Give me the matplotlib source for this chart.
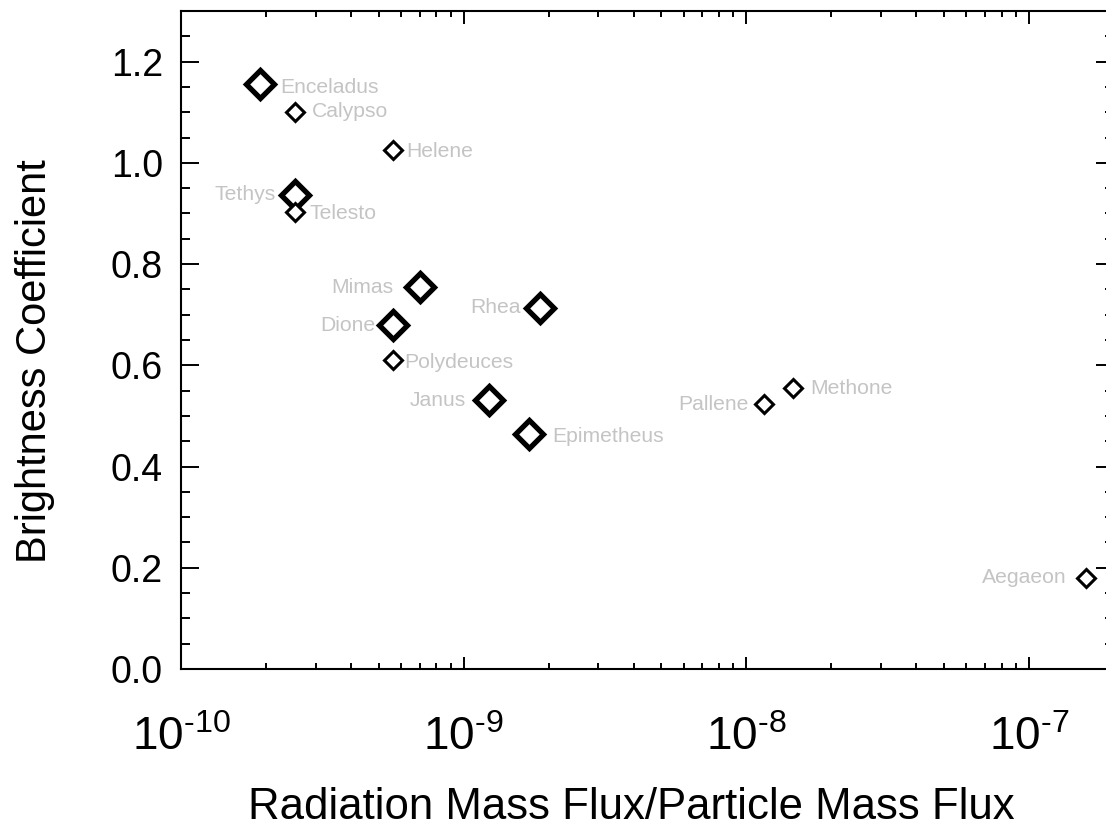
import numpy as np
import matplotlib
matplotlib.use('Agg')
import matplotlib.pyplot as plt
from matplotlib.ticker import LogLocator, MultipleLocator, FixedLocator, FuncFormatter

# Data
moons = ['Enceladus', 'Calypso', 'Helene', 'Tethys', 'Telesto', 'Mimas', 'Dione',
         'Polydeuces', 'Rhea', 'Janus', 'Epimetheus', 'Pallene', 'Methone', 'Aegaeon']
flux_ratio = [1.90e-10, 2.53e-10, 5.61e-10, 2.53e-10, 2.53e-10, 7.0e-10, 5.61e-10,
              5.61e-10, 1.87e-9, 1.225e-9, 1.71e-9, 1.16e-8, 1.46e-8, 1.59e-7]
brightness = [1.155, 1.101, 1.026, 0.937, 0.902, 0.754, 0.679,
              0.610, 0.714, 0.531, 0.464, 0.523, 0.555, 0.180]
is_major = [True, False, False, True, False, True, True,
            False, True, True, True, False, False, False]

# label placement (pixel offsets from the marker)
label_dx = [20, 17, 14, -19, 15, -26, -17, 12, -20, -23, 23, -16, 18, -19]
label_dy = [-3, 0, -2, 0, -1, 0, 0, -2, 0, 0, -2, 0, 0, 0]

plt.rcParams['font.family'] = ['Liberation Sans', 'DejaVu Sans']
plt.rcParams['mathtext.fontset'] = 'custom'
plt.rcParams['mathtext.rm'] = 'Liberation Sans'
plt.rcParams['mathtext.it'] = 'Liberation Sans:italic'
plt.rcParams['mathtext.bf'] = 'Liberation Sans:bold'

fig = plt.figure(figsize=(11.06, 8.26), dpi=100)
ax = fig.add_axes([181 / 1106, 1 - 669 / 826, (1114 - 181) / 1106, (669 - 11) / 826])

for x, y, big in zip(flux_ratio, brightness, is_major):
    if big:
        ax.plot(x, y, 'D', ms=14, mfc='white', mec='black', mew=3.8, zorder=3)
    else:
        ax.plot(x, y, 'D', ms=9.3, mfc='white', mec='black', mew=2.2, zorder=3)

for name, x, y, dx, dy in zip(moons, flux_ratio, brightness, label_dx, label_dy):
    ax.annotate(name, (x, y), xytext=(dx, dy), textcoords='offset pixels',
                ha='left' if dx > 0 else 'right', va='center',
                fontsize=15.2, color='#c4c4c4', zorder=2)

ax.set_xscale('log')
ax.set_xlim(1e-10, 2e-7)
ax.set_ylim(0, 1.3)

ax.xaxis.set_major_locator(FixedLocator([1e-10, 1e-9, 1e-8, 1e-7]))
ax.xaxis.set_minor_locator(LogLocator(base=10, subs=np.arange(2, 10), numticks=20))


def sci_fmt(v, pos):
    e = int(round(np.log10(v)))
    return r'$\mathregular{10^{\text{-}%d}}$' % abs(e)


ax.xaxis.set_major_formatter(FuncFormatter(sci_fmt))
ax.yaxis.set_major_locator(MultipleLocator(0.2))
ax.yaxis.set_minor_locator(MultipleLocator(0.05))
ax.yaxis.set_major_formatter(FuncFormatter(lambda v, p: '%.1f' % v))

ax.tick_params(axis='x', which='major', direction='in', top=True, length=9, width=1.4,
               labelsize=33, pad=34)
ax.tick_params(axis='x', which='minor', direction='in', top=True, length=4.5, width=1.4)
ax.tick_params(axis='y', which='major', direction='in', right=True, length=13, width=1.4,
               labelsize=27, pad=13)
ax.tick_params(axis='y', which='minor', direction='in', right=True, length=6.5, width=1.4)
for s in ax.spines.values():
    s.set_linewidth(1.5)

ax.set_xlabel('Radiation Mass Flux/Particle Mass Flux', fontsize=31.5, va='baseline')
ax.xaxis.set_label_coords(0.483, (669 - 819) / 658)
ax.set_ylabel('Brightness Coefficient', fontsize=30)
ax.yaxis.set_label_coords((55 - 181) / 933, 0.468)

fig.savefig('out.png', dpi=100)
